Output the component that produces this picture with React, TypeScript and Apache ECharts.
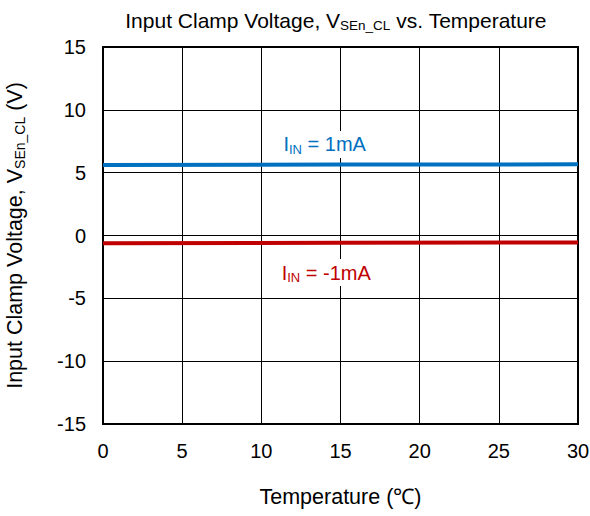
import React, { useEffect, useRef } from "react";
import * as echarts from "echarts";

const temps = [0, 15, 30];
const vPos = [5.62, 5.64, 5.66];
const vNeg = [-0.61, -0.58, -0.56];
const xTicks = { min: 0, max: 30, interval: 5 };
const yTicks = { min: -15, max: 15, interval: 5 };
const labelPos = { label: "1mA", x: 14, y: 7.25 };
const labelNeg = { label: "-1mA", x: 14.1, y: -2.95 };

const FONT = "Liberation Sans, Arial, sans-serif";

export default function App() {
  const ref = useRef<HTMLDivElement>(null);
  useEffect(() => {
    const chart = echarts.init(ref.current!, null, { renderer: "svg" });
    const mkLabel = (p: { label: string; x: number; y: number }, color: string) => ({
      symbol: "circle",
      symbolSize: 0,
      data: [{ coord: [p.x, p.y] }],
      label: {
        show: true,
        position: "inside",
        backgroundColor: "#fff",
        padding: [2, 2, 2, 2],
        formatter: `{m|I}{s|IN}{m| = ${p.label}}`,
        rich: {
          m: { fontSize: 20, color, fontFamily: FONT },
          s: { fontSize: 13, color, fontFamily: FONT, padding: [10, 0, 0, 0] },
        },
      },
    });
    chart.setOption({
      animation: false,
      backgroundColor: "#fff",
      title: {
        text: "{m|Input Clamp Voltage, V}{s|SEn_CL}{m| vs. Temperature}",
        left: 331,
        textAlign: "center",
        top: 4,
        textStyle: {
          fontWeight: "normal",
          rich: {
            m: { fontSize: 21, color: "#000", fontFamily: FONT, fontWeight: "normal" },
            s: { fontSize: 13.5, color: "#000", fontFamily: FONT, fontWeight: "normal", padding: [9, 0, 0, 0] },
          },
        },
      },
      grid: {
        left: 103,
        right: 12,
        top: 47,
        bottom: 92,
        show: true,
        borderColor: "#000",
        borderWidth: 2,
        outerBoundsMode: "none",
        containLabel: false,
      },
      xAxis: {
        type: "value",
        ...xTicks,
        name: "Temperature (℃)",
        nameLocation: "middle",
        nameGap: 62,
        nameTextStyle: { fontSize: 21.5, color: "#000", fontFamily: FONT },
        axisLine: { show: true, onZero: false, lineStyle: { color: "#000", width: 2 } },
        axisTick: { show: false },
        axisLabel: { fontSize: 20, color: "#000", fontFamily: FONT, margin: 17 },
        splitLine: { show: true, lineStyle: { color: "#000", width: 1 } },
      },
      yAxis: {
        type: "value",
        ...yTicks,
        name: "{m|Input Clamp Voltage, V}{s|SEn_CL}{m| (V)}",
        nameLocation: "middle",
        nameGap: 76,
        nameTextStyle: {
          rich: {
            m: { fontSize: 21.5, color: "#000", fontFamily: FONT },
            s: { fontSize: 14, color: "#000", fontFamily: FONT, padding: [10, 0, 0, 0] },
          },
        },
        axisLine: { show: true, onZero: false, lineStyle: { color: "#000", width: 2 } },
        axisTick: { show: false },
        axisLabel: { fontSize: 20, color: "#000", fontFamily: FONT, margin: 17 },
        splitLine: { show: true, lineStyle: { color: "#000", width: 1 } },
      },
      series: [
        {
          type: "line",
          data: temps.map((t, i) => [t, vPos[i]]),
          showSymbol: false,
          lineStyle: { color: "#0070C0", width: 4 },
          markPoint: mkLabel(labelPos, "#0070C0"),
        },
        {
          type: "line",
          data: temps.map((t, i) => [t, vNeg[i]]),
          showSymbol: false,
          lineStyle: { color: "#C00000", width: 4 },
          markPoint: mkLabel(labelNeg, "#C00000"),
        },
      ],
    });
    return () => chart.dispose();
  }, []);
  return <div ref={ref} style={{ width: 590, height: 516, position: "absolute", left: 0, top: 0 }} />;
}
